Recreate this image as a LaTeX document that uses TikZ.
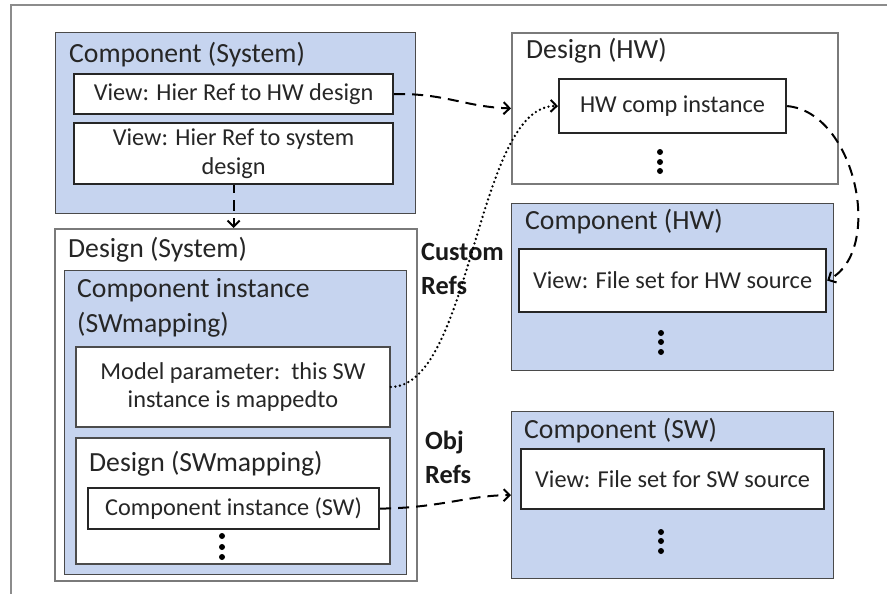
\documentclass[tikz,border=0pt]{standalone}
\usepackage{fontspec}
\setmainfont{Carlito}
\usetikzlibrary{arrows.meta}
\definecolor{boxblue}{HTML}{C6D4EF}
\definecolor{frameg}{HTML}{8C8C8C}
\definecolor{bluedge}{HTML}{4A4A4A}
\definecolor{desedge}{HTML}{7A7A7A}
\begin{document}
\begin{tikzpicture}[x=1pt,y=-1pt,
  titletext/.style={font=\fontsize{27.7}{35}\selectfont, anchor=base west, inner sep=0pt, align=left, text=black!85},
  reflabel/.style={font=\bfseries\fontsize{26.3}{34}\selectfont, anchor=base west, inner sep=0pt, align=left, text=black!90},
  bluebox/.style={draw=bluedge, line width=1.4pt, fill=boxblue, anchor=north west, inner sep=0pt},
  designbox/.style={draw=desedge, line width=1.8pt, fill=white, anchor=north west, inner sep=0pt},
  whitebox/.style={draw=black!85, line width=2.2pt, fill=white, anchor=north west, inner sep=0pt, align=center,
    font=\fontsize{24.3}{28.5}\selectfont, text=black!85},
  dashref/.style={line width=2pt, dash pattern=on 11pt off 7pt, -{Straight Barb[length=6pt,width=12pt,line width=2pt]}},
  dotref/.style={line width=2.6pt, dash pattern=on 0pt off 4.6pt, line cap=round, -{Straight Barb[length=6pt,width=12pt,line width=2pt]}},
  vdot/.style={fill=black}
]
\useasboundingbox (0,0) rectangle (887,594);
% outer frame (cropped)
\draw[frameg, line width=1.5pt] (11,594) -- (11,5) -- (887,5);

% Component (System)
\node[bluebox, minimum width=360pt, minimum height=181pt] (compsys) at (55,32) {};
\node[titletext] (tcompsys) at (69,63) {Component (System)};
\node[whitebox, minimum width=319pt, minimum height=40pt] (hwview) at (73,73) {View: Hier Ref to HW design};
\node[whitebox, minimum width=319pt, minimum height=61pt] (sysview) at (73,122) {View: Hier Ref to system\\design};

% Design (System)
\node[designbox, minimum width=362pt, minimum height=352pt] (dessys) at (54,228) {};
\node[titletext] (tdessys) at (68,257) {Design (System)};
\node[bluebox, minimum width=342pt, minimum height=304pt] (ciswm) at (64,270) {};
\node[titletext] (tciswm) at (77,332) {Component instance\\(SWmapping)};
\node[whitebox, draw=black!70, line width=1.8pt, minimum width=314pt, minimum height=80pt] (modelp) at (75,346) {Model parameter:\ \ this SW\\instance is mappedto};
\node[whitebox, draw=black!70, line width=1.8pt, minimum width=314pt, minimum height=126pt] (deswm) at (75,437) {};
\node[titletext] (tdeswm) at (89,471) {Design (SWmapping)};
\node[whitebox, minimum width=291pt, minimum height=41pt] (cisw) at (87,487) {Component instance (SW)};
\foreach \yy in {536,547,557} \fill[vdot] (222,\yy) circle (3pt);

% Design (HW)
\node[designbox, minimum width=326pt, minimum height=151pt] (deshw) at (511,32) {};
\node[titletext] (tdeshw) at (526,59) {Design (HW)};
\node[whitebox, minimum width=227pt, minimum height=54pt] (hwci) at (558,78) {HW comp instance};
\foreach \yy in {152,162,171} \fill[vdot] (660,\yy) circle (3pt);

% Component (HW)
\node[bluebox, minimum width=322pt, minimum height=167pt] (comphw) at (511,203) {};
\node[titletext] (tcomphw) at (525,229) {Component (HW)};
\node[whitebox, minimum width=307pt, minimum height=63pt] (hwsrc) at (518,248) {View: File set for HW source};
\foreach \yy in {333,342,352} \fill[vdot] (661,\yy) circle (3pt);

% Component (SW)
\node[bluebox, minimum width=322pt, minimum height=167pt] (compsw) at (511,411) {};
\node[titletext] (tcompsw) at (524,438) {Component (SW)};
\node[whitebox, minimum width=303pt, minimum height=60pt] (swsrc) at (520,448) {View: File set for SW source};
\foreach \yy in {532,541,551} \fill[vdot] (661,\yy) circle (3pt);

% labels
\node[reflabel] (lcustom) at (421,294) {Custom\\Refs};
\node[reflabel] (lobj) at (425,483) {Obj\\Refs};

% connectors
\draw[dashref, dash phase=3pt] (sysview.south) -- (sysview.south |- dessys.north);
\draw[dashref] (hwview.east) .. controls (445,93) and (465,107) .. (deshw.west);
\draw[dotref] (modelp.east) .. controls (472,387) and (476,104) .. (hwci.west);
\draw[dashref] (hwci.east) .. controls (855,112) and (885,250) .. (hwsrc.east);
\draw[dashref] (cisw.east) .. controls (440,508) and (470,495) .. (compsw.west);
\end{tikzpicture}
\end{document}
